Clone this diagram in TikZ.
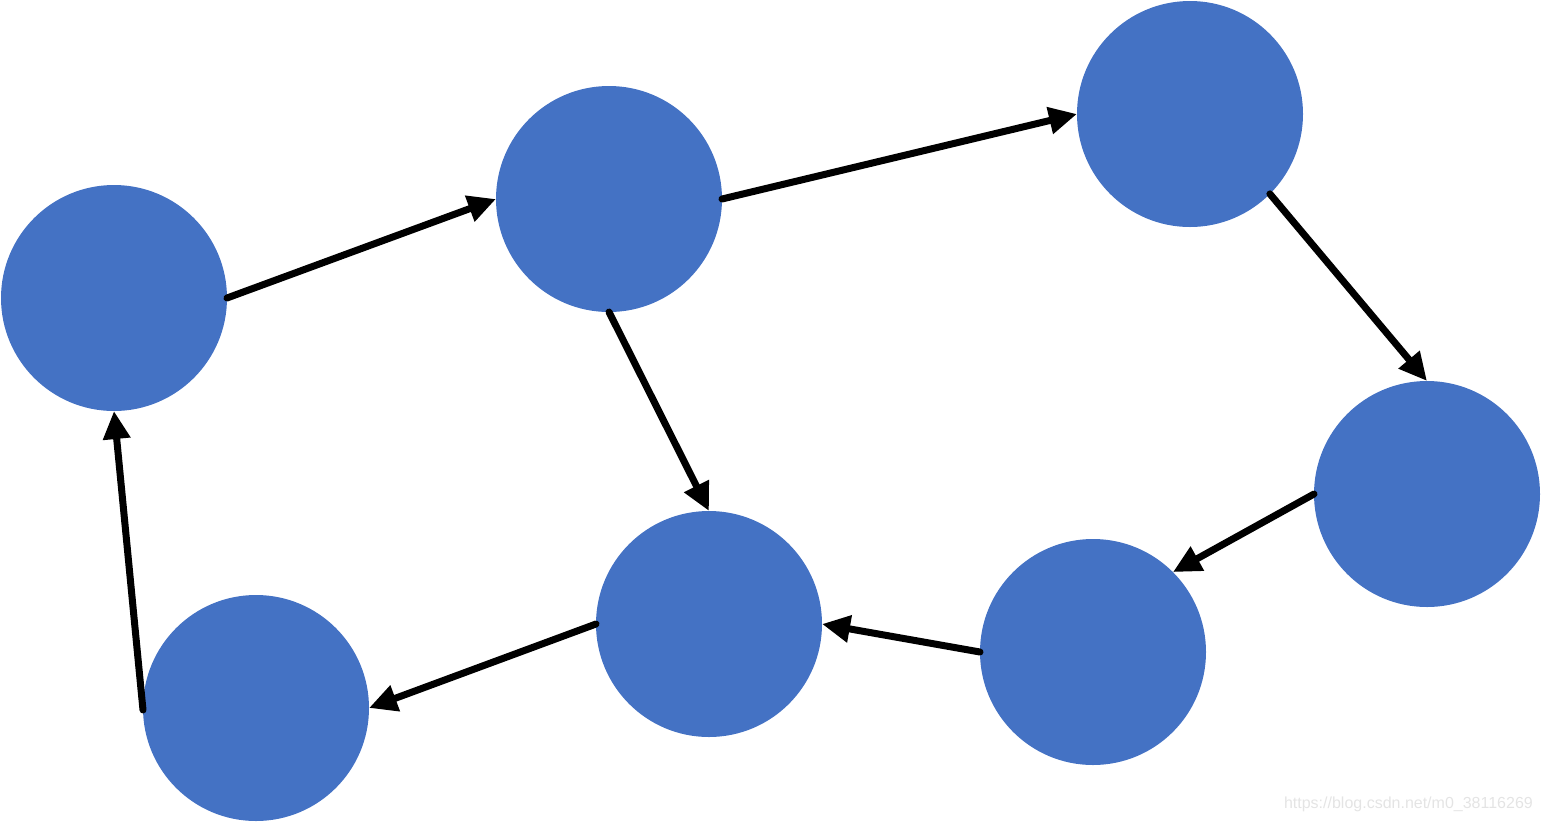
\documentclass[tikz,border=0pt]{standalone}
\usepackage{fontspec}
\setmainfont{Liberation Sans}
\usetikzlibrary{arrows.meta}
\definecolor{nodeblue}{HTML}{4472C4}
\definecolor{wmgray}{HTML}{E4E4E4}
\begin{document}
\begin{tikzpicture}[x=1pt,y=-1pt,
  ball/.style={circle,fill=nodeblue,minimum size=226pt,inner sep=0pt,outer sep=0pt},
  link/.style={line width=7pt,line cap=round,-{Triangle[length=28pt,width=26pt]},black}]
\useasboundingbox (0,0) rectangle (1542,823);
\node[ball] (A) at (114,298) {};
\node[ball] (B) at (609,199) {};
\node[ball] (C) at (1190,114) {};
\node[ball] (D) at (1427,494) {};
\node[ball] (E) at (1093,652) {};
\node[ball] (F) at (709,624) {};
\node[ball] (G) at (256,708) {};
\coordinate (Gs) at (143,710);
\draw[link] (A.east) -- (B.west);
\draw[link] (B.east) -- (C.west);
\draw[link] (C.-45) -- (D.north);
\draw[link] (B.south) -- (F.north);
\draw[link] (D.west) -- (E.45);
\draw[link] (E.west) -- (F.east);
\draw[link] (F.west) -- (G.east);
\draw[link] (Gs) -- (A.south);
\node[anchor=east,text=wmgray,font=\fontsize{16}{18}\selectfont,inner sep=0pt] (wm) at (1533,804) {https://blog.csdn.net/m0\_38116269};
\end{tikzpicture}
\end{document}
